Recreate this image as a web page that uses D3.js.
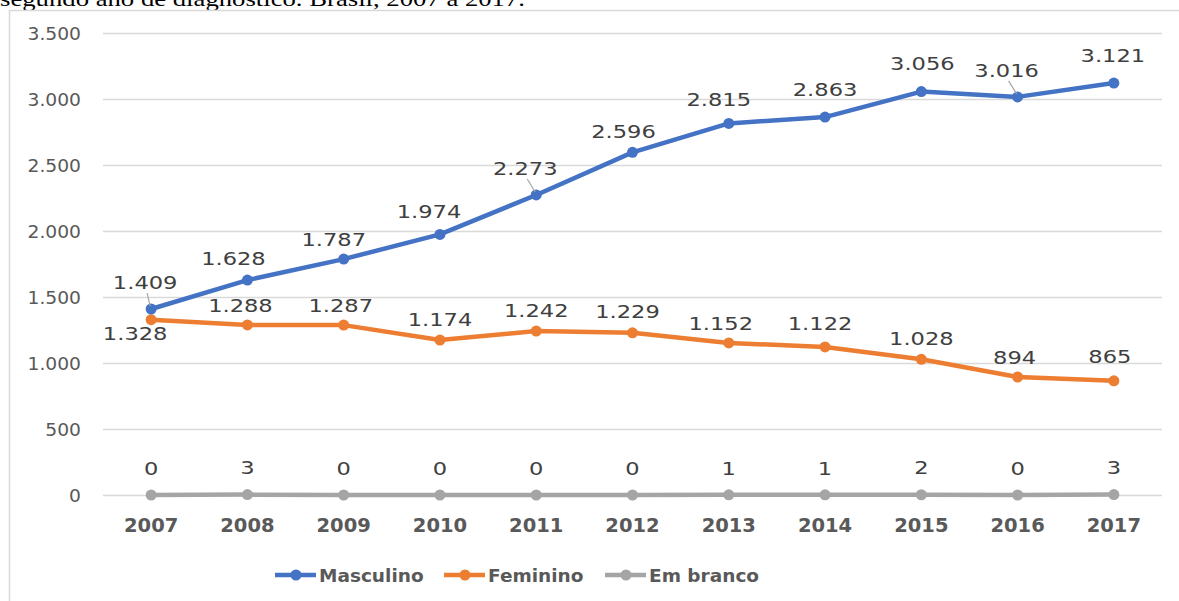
<!DOCTYPE html>
<html>
<head>
<meta charset="utf-8">
<script src="https://cdn.jsdelivr.net/npm/d3@7"></script>
<style>
  body { margin: 0; background: #fff; }
  svg { display: block; }
</style>
</head>
<body>
<script>
// dados
const years = ["2007", "2008", "2009", "2010", "2011", "2012", "2013", "2014", "2015", "2016", "2017"];
const masculino = [1409, 1628, 1787, 1974, 2273, 2596, 2815, 2863, 3056, 3016, 3121];
const feminino = [1328, 1288, 1287, 1174, 1242, 1229, 1152, 1122, 1028, 894, 865];
const emBranco = [0, 3, 0, 0, 0, 0, 1, 1, 2, 0, 3];
const yTicks = [0, 500, 1000, 1500, 2000, 2500, 3000, 3500];
const seriesNames = ["Masculino", "Feminino", "Em branco"];

const W = 1179, H = 601;
const svg = d3.select("body").append("svg")
    .attr("width", W)
    .attr("height", H);

// caption cut at top of the page
svg.append("text")
    .attr("x", 0)
    .attr("y", 6)
    .attr("font-family", "Liberation Serif, Times New Roman, serif")
    .attr("font-size", 21)
    .attr("fill", "#000")
    .attr("textLength", 525)
    .attr("lengthAdjust", "spacingAndGlyphs")
    .text("segundo ano de diagnóstico. Brasil, 2007 a 2017.");

// chart frame
svg.append("rect")
    .attr("x", 9.5).attr("y", 10.5)
    .attr("width", W + 20).attr("height", H + 20)
    .attr("fill", "none")
    .attr("stroke", "#d9d9d9")
    .attr("stroke-width", 1.5);

const plot = { left: 103, right: 1162, top: 33, bottom: 495 };

const x = d3.scaleBand().domain(years).range([plot.left, plot.right]);
const cx = d => x(d) + x.bandwidth() / 2;
const y = d3.scaleLinear().domain([0, 3500]).range([plot.bottom, plot.top]);

const br = d3.formatLocale({ decimal: ",", thousands: ".", grouping: [3], currency: ["R$", ""] });
const fmt = br.format(",d");

const font = "DejaVu Sans, Verdana, sans-serif";

// y axis + gridlines
const yAxis = svg.append("g")
    .attr("transform", "translate(" + plot.left + ",0)")
    .call(d3.axisLeft(y).tickValues(yTicks).tickSize(-(plot.right - plot.left)).tickPadding(22).tickFormat(fmt));
yAxis.select(".domain").remove();
yAxis.selectAll("line").attr("stroke", "#d9d9d9").attr("stroke-width", 1.3);
yAxis.selectAll("text")
    .attr("fill", "#595959")
    .attr("font-family", font)
    .attr("font-size", 17)
    .attr("dy", "0.36em")
    .attr("transform", function () {
        const tx = +d3.select(this).attr("x");
        return "translate(" + tx + ",0) scale(1.1,1) translate(" + (-tx) + ",0)";
    });

// x axis labels
const xAxis = svg.append("g")
    .attr("transform", "translate(0," + plot.bottom + ")")
    .call(d3.axisBottom(x).tickSize(0));
xAxis.select(".domain").remove();
xAxis.selectAll("text")
    .attr("y", 30)
    .attr("dy", "0.36em")
    .attr("fill", "#595959")
    .attr("font-family", font)
    .attr("font-size", 19.5)
    .attr("font-weight", "bold");

const series = [
    { name: seriesNames[0], values: masculino, color: "#4472C4" },
    { name: seriesNames[1], values: feminino, color: "#ED7D31" },
    { name: seriesNames[2], values: emBranco, color: "#A5A5A5" }
];

// label offsets relative to the point (dx, dy), leader flag
const labelOffsets = [
    [[-6, -27, 1], [-14, -22], [-10, -20], [-11, -23], [-11, -27, 1], [-9, -21], [-10, -24], [0, -28], [1, -28], [-11, -27, 1], [-1, -28]],
    [[-16, 14], [-7, -20], [-3, -20], [0, -21], [0, -21], [-5, -21], [-8, -20], [-5, -24], [0, -21], [-3, -20], [-4, -24]],
    [[0, -27], [0, -27], [0, -27], [0, -27], [0, -27], [0, -27], [0, -27], [0, -27], [0, -27], [0, -27], [0, -27]]
];

const line = d3.line()
    .x((d, i) => cx(years[i]))
    .y(d => y(d));

// draw from back to front: em branco, feminino, masculino
[2, 1, 0].forEach(si => {
    const s = series[si];
    const g = svg.append("g");
    g.append("path")
        .datum(s.values)
        .attr("d", line)
        .attr("fill", "none")
        .attr("stroke", s.color)
        .attr("stroke-width", 4.5)
        .attr("stroke-linejoin", "round");
    g.selectAll("circle")
        .data(s.values)
        .join("circle")
        .attr("cx", (d, i) => cx(years[i]))
        .attr("cy", d => y(d))
        .attr("r", 5.5)
        .attr("fill", s.color);
});

// data labels (glyphs stretched a bit, as in the original)
series.forEach((s, si) => {
    const g = svg.append("g");
    s.values.forEach((v, i) => {
        const off = labelOffsets[si][i];
        const px = cx(years[i]), py = y(v);
        const lx = px + off[0], ly = py + off[1];
        if (off[2]) {
            g.append("line")
                .attr("x1", lx + 2).attr("y1", ly + 11)
                .attr("x2", px - 1).attr("y2", py - 3)
                .attr("stroke", "#a6a6a6")
                .attr("stroke-width", 1.2);
        }
        g.append("text")
            .attr("transform", "translate(" + lx + "," + ly + ") scale(1.22,1)")
            .attr("dy", "0.36em")
            .attr("text-anchor", "middle")
            .attr("fill", "#404040")
            .attr("font-family", font)
            .attr("font-size", 18.5)
            .text(fmt(v));
    });
});

// legend
const legendX = [275, 444, 605];
const legend = svg.append("g").attr("transform", "translate(0,575)");
series.forEach((s, i) => {
    const g = legend.append("g").attr("transform", "translate(" + legendX[i] + ",0)");
    g.append("line")
        .attr("x1", 0).attr("x2", 41)
        .attr("stroke", s.color)
        .attr("stroke-width", 4.5);
    g.append("circle")
        .attr("cx", 21).attr("r", 5.5)
        .attr("fill", s.color);
    g.append("text")
        .attr("x", 44)
        .attr("dy", "0.36em")
        .attr("fill", "#595959")
        .attr("font-family", font)
        .attr("font-size", 18.5)
        .attr("font-weight", "bold")
        .text(s.name);
});
</script>
</body>
</html>
